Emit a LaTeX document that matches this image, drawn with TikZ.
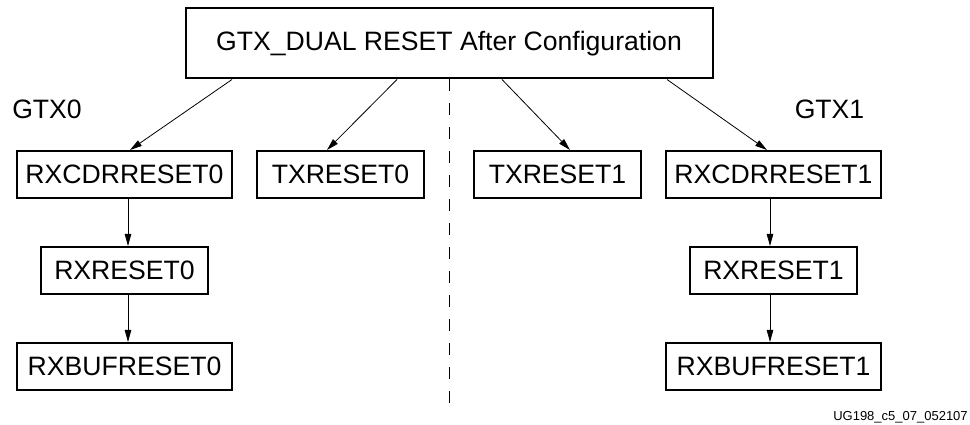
\documentclass[tikz,border=0pt]{standalone}
\usepackage{fontspec}
\setmainfont{Liberation Sans}
\usetikzlibrary{arrows.meta}
\begin{document}
\begin{tikzpicture}[x=1pt,y=1pt,
  box/.style={draw,line width=2pt,inner sep=0pt,minimum height=47pt,font=\fontsize{26.6}{30}\selectfont},
  lbl/.style={inner sep=0pt,font=\fontsize{26.6}{30}\selectfont},
  conn/.style={line width=0.8pt,-{Triangle[length=12pt,width=6.5pt]}}]
\useasboundingbox (0,0) rectangle (970,425);
\node[box,minimum width=527pt,minimum height=70pt] (title) at (449,381.5) {GTX\_DUAL RESET After Configuration};
\node[box,minimum width=215pt] (rxcdr0) at (124.5,250.5) {RXCDRRESET0};
\node[box,minimum width=167pt] (tx0) at (340.5,250.5) {TXRESET0};
\node[box,minimum width=167pt] (tx1) at (557.5,250.5) {TXRESET1};
\node[box,minimum width=215pt] (rxcdr1) at (773.5,250.5) {RXCDRRESET1};
\node[box,minimum width=167pt] (rx0) at (124.5,154.5) {RXRESET0};
\node[box,minimum width=167pt] (rx1) at (773.5,154.5) {RXRESET1};
\node[box,minimum width=215pt] (rxbuf0) at (124.5,58.5) {RXBUFRESET0};
\node[box,minimum width=215pt] (rxbuf1) at (773.5,58.5) {RXBUFRESET1};
\node[lbl] (g0) at (47,316) {GTX0};
\node[lbl] (g1) at (829.5,316) {GTX1};
\node[inner sep=0pt,font=\fontsize{13}{15}\selectfont] (ug) at (900.5,8) {UG198\_c5\_07\_052107};
\coordinate (dend) at (449,18);
\draw[line width=0.9pt,dash pattern=on 12pt off 12pt] (title.south) -- (dend);
\draw[conn] ([xshift=-217pt]title.south) -- ([xshift=5.5pt]rxcdr0.north);
\draw[conn] ([xshift=-52pt]title.south) -- ([xshift=-13.5pt]tx0.north);
\draw[conn] ([xshift=53pt]title.south) -- ([xshift=12.5pt]tx1.north);
\draw[conn] ([xshift=218pt]title.south) -- ([xshift=-6.5pt]rxcdr1.north);
\draw[conn] ([xshift=3.5pt]rxcdr0.south) -- ([xshift=3.5pt]rx0.north);
\draw[conn] ([xshift=3.5pt]rx0.south) -- ([xshift=3.5pt]rxbuf0.north);
\draw[conn] ([xshift=-3.5pt]rxcdr1.south) -- ([xshift=-3.5pt]rx1.north);
\draw[conn] ([xshift=-3.5pt]rx1.south) -- ([xshift=-3.5pt]rxbuf1.north);
\end{tikzpicture}
\end{document}
